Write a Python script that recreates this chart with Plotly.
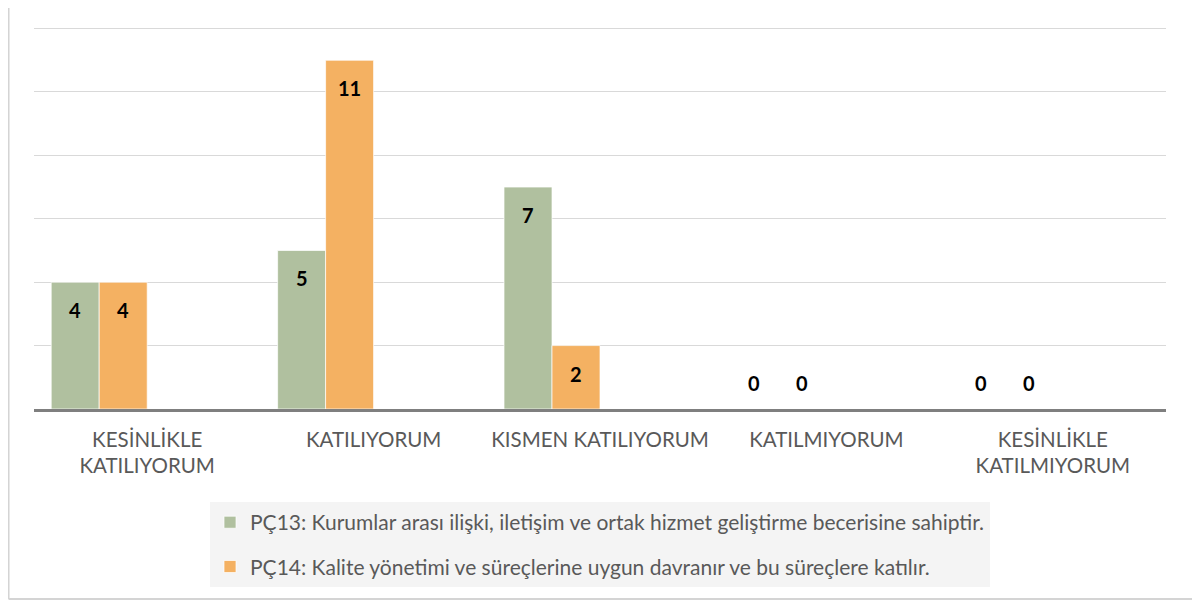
import plotly.graph_objects as go

categories = ["KESİNLİKLE<br>KATILIYORUM", "KATILIYORUM", "KISMEN KATILIYORUM",
              "KATILMIYORUM", "KESİNLİKLE<br>KATILMIYORUM"]
series_names = [
    "PÇ13: Kurumlar arası ilişki, iletişim ve ortak hizmet geliştirme becerisine sahiptir.",
    "PÇ14: Kalite yönetimi ve süreçlerine uygun davranır ve bu süreçlere katılır.",
]
pc13 = [4, 5, 7, 0, 0]
pc14 = [4, 11, 2, 0, 0]
colors = ["#b0c09f", "#f4b162"]

W = 0.212
offsets = [-1.5 * W, -0.5 * W]
idx = list(range(len(categories)))

fig = go.Figure()
annotations = []
for k, (name, vals) in enumerate(zip(series_names, [pc13, pc14])):
    xs = [i + offsets[k] for i in idx]
    fig.add_trace(go.Bar(
        x=xs, y=vals, width=W, name=name,
        marker=dict(color=colors[k], line=dict(color="rgba(255,255,255,0.7)", width=1)),
        legendgroup=f"g{k}", hoverinfo="y",
    ))
    for x, v in zip(xs, vals):
        annotations.append(dict(
            x=x, y=v, xref="x", yref="y", text=f"<b>{v}</b>", showarrow=False,
            yanchor="middle", yshift=-28 if v > 0 else 26,
            font=dict(family="Lato", size=20, color="#000000"),
        ))

border = dict(color="#d4d4d4", width=2)
fig.update_layout(
    width=1200, height=603,
    margin=dict(l=26, r=42, t=18, b=202),
    paper_bgcolor="white", plot_bgcolor="white",
    barmode="overlay",
    showlegend=True,
    legend=dict(
        orientation="v", x=0.5, xanchor="center", y=-0.243, yanchor="top",
        bgcolor="#f4f4f4", font=dict(family="Lato", size=21, color="#595959"),
        tracegroupgap=14, traceorder="grouped",
    ),
    annotations=annotations,
    shapes=[
        dict(type="line", xref="paper", yref="paper", x0=-0.0225, x1=-0.0225,
             y0=-0.496, y1=1.2, line=border, layer="above"),
        dict(type="line", xref="paper", yref="paper", x0=1.0256, x1=1.0256,
             y0=-0.496, y1=1.2, line=border, layer="above"),
        dict(type="line", xref="paper", yref="paper", x0=-0.0225, x1=1.0256,
             y0=-0.496, y1=-0.496, line=border, layer="above"),
    ],
    xaxis=dict(
        range=[-0.5, 4.5], tickmode="array", tickvals=idx, ticktext=categories,
        showgrid=False, zeroline=False, showline=True, linecolor="#7f7f7f", linewidth=3,
        ticks="", ticklabelstandoff=10,
        tickfont=dict(family="Lato", size=20.5, color="#595959"),
        fixedrange=True,
    ),
    yaxis=dict(
        range=[0, 12.08], tickvals=[2, 4, 6, 8, 10, 12], showticklabels=False, showgrid=True,
        gridcolor="#d9d9d9", gridwidth=1, zeroline=False, showline=False,
        fixedrange=True,
    ),
)

fig.write_html("out.html")
